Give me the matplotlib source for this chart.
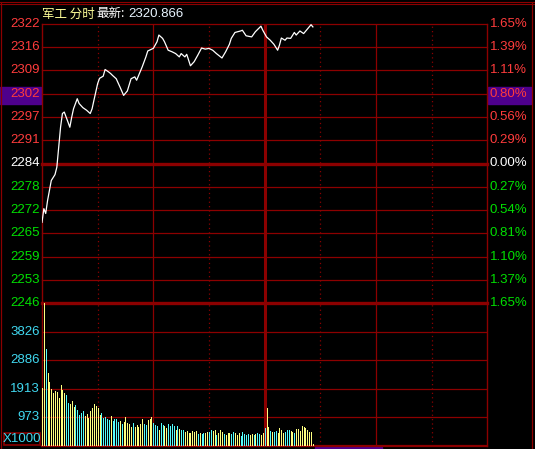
import matplotlib
matplotlib.use("Agg")
import matplotlib.pyplot as plt
from matplotlib.patches import Rectangle
from matplotlib.lines import Line2D

W, H = 535, 449

# 分时价格 (分钟, 点位)
price_min = [0, 1, 2, 3, 5, 7, 8, 9, 10, 11, 12, 14, 15, 16, 17, 19, 20, 22, 24, 26,
             27, 28, 30, 31, 33, 34, 36, 37, 38, 40, 42, 44, 46, 48, 50, 51, 54, 56, 57, 60,
             62, 63, 65, 66, 68, 70, 72, 74, 75, 77, 78, 80, 82, 84, 86, 88, 90, 92, 94, 97,
             99, 101, 102, 104, 107, 108, 110, 113, 115, 118, 119, 121, 123, 125, 127, 128, 129, 131, 132, 134,
             136, 137, 139, 141, 143, 145, 146]
price_val = [2268.1, 2271.8, 2270.5, 2274.0, 2279.4, 2281.0, 2283.0, 2288.4, 2293.8, 2297.5,
             2297.9, 2295.2, 2293.8, 2296.5, 2298.8, 2301.5, 2300.2, 2299.1, 2298.4, 2297.5,
             2298.8, 2301.1, 2305.6, 2307.0, 2307.6, 2309.4, 2308.7, 2308.3, 2307.8, 2306.9,
             2304.7, 2302.4, 2303.6, 2306.9, 2307.4, 2306.5, 2310.1, 2312.8, 2314.4, 2315.1,
             2316.9, 2318.7, 2317.8, 2316.9, 2314.6, 2314.2, 2313.7, 2312.8, 2313.7, 2312.8,
             2313.5, 2310.4, 2311.5, 2313.3, 2315.2, 2314.9, 2315.1, 2314.6, 2313.7, 2312.5,
             2314.2, 2316.2, 2317.8, 2319.4, 2319.8, 2320.0, 2318.5, 2318.2, 2319.6, 2321.1,
             2320.0, 2318.2, 2317.3, 2316.2, 2314.6, 2316.0, 2317.9, 2317.3, 2317.9, 2317.8,
             2319.4, 2318.7, 2319.8, 2319.1, 2320.3, 2321.5, 2320.9]

base = 2284.0
pct_top = 1.65

price_labels = ['2322', '2316', '2309', '2302', '2297', '2291', '2284',
                '2278', '2272', '2265', '2259', '2253', '2246']
pct_labels = ['1.65%', '1.39%', '1.11%', '0.80%', '0.56%', '0.29%', '0.00%',
              '0.27%', '0.54%', '0.81%', '1.10%', '1.37%', '1.65%']

# 成交量 (x1000), Y=涨 C=跌
volume = [1950, 4780, 3240, 2430, 2160, 1920, 1780, 1850, 1800, 1620,
          2060, 1890, 1780, 1720, 1440, 1400, 1520, 1290, 1380, 1210,
          1050, 1120, 1180, 1010, 1080, 930, 1180, 1270, 1420, 1330,
          1280, 1050, 1100, 930, 960, 910, 880, 1010, 850, 900,
          910, 820, 840, 740, 790, 980, 760, 730, 630, 760,
          650, 710, 620, 740, 910, 740, 710, 880, 900, 970,
          760, 710, 670, 540, 760, 700, 670, 610, 740, 670,
          730, 660, 550, 660, 560, 530, 530, 470, 500, 440,
          440, 500, 470, 500, 390, 440, 390, 420, 420, 460,
          460, 530, 500, 530, 370, 420, 530, 470, 390, 360,
          440, 440, 400, 460, 430, 370, 440, 330, 460, 400,
          370, 390, 360, 410, 360, 390, 420, 390, 360, 420,
          600, 1270, 620, 510, 470, 470, 500, 440, 590, 530,
          450, 470, 530, 530, 500, 470, 440, 560, 560, 510,
          660, 630, 600, 530, 470, 470, 80]
vol_dir = ("YYCYYYYYYYYYYCCYYYCCCCCYYYYYYYYYCCCCCYCCCCYCYYYYYC"
           "YYYYYCCYYYCCCYCCYYCCCCYCYCCYYYYYYYCYCCYYCCYYCYYYCY"
           "YYCCYYYCCCCCYYCYCCYYCYYCYCCYYYYCCC")
vol_top = 4790
vol_labels = ['3826', '2886', '1913', '973']

grid = '#8c0000'
red = '#ff3c3c'
green = '#00e000'
cyan = '#40d8f0'
purple = '#4e008c'


def fx(x):
    return x / W


def fy(y):
    return 1 - y / H


fig = plt.figure(figsize=(W / 100, H / 100), dpi=100, facecolor='black')

x0, x1 = 42, 487.3
ax_p = fig.add_axes([fx(x0), fy(303), fx(x1) - fx(x0), fy(24) - fy(303)])
ax_v = fig.add_axes([fx(x0), fy(446), fx(x1) - fx(x0), fy(303) - fy(446)])

half = base * pct_top / 100
levels = [base + half - i * half / 6 for i in range(13)]

for ax in (ax_p, ax_v):
    ax.set_xlim(0, 240)
    ax.axis('off')
    for m in (30, 90, 150, 210):
        ax.axvline(m, color=grid, lw=0.9, ls=(0, (1, 2.5)))
    for m in (60, 180):
        ax.axvline(m, color=grid, lw=0.9)
    ax.axvline(120, color=grid, lw=2.2)
    ax.axvline(0, color=grid, lw=1.0, clip_on=False)
    ax.axvline(240, color=grid, lw=1.0, clip_on=False)

ax_p.set_ylim(levels[-1], levels[0])
for i, lv in enumerate(levels):
    lw = 2.4 if i in (6, 12) else 0.9
    ax_p.axhline(lv, color=grid, lw=lw, clip_on=False)
ax_p.plot(price_min, price_val, color='white', lw=0.9)

ax_v.set_ylim(0, vol_top)
for k in range(1, 5):
    ax_v.axhline(vol_top * k / 5, color=grid, lw=0.9)
ax_v.axhline(0, color=grid, lw=1.6, clip_on=False)
bar_cols = ['#ffff80' if d == 'Y' else '#54fcfc' for d in vol_dir]
ax_v.vlines(range(len(volume)), 0, volume, colors=bar_cols[:len(volume)],
            lw=0.7, antialiased=False, zorder=3)

num_font = dict(family='Liberation Sans', fontsize=9.5)

# 高亮框
for rx0, rx1, ry0, ry1 in ((0, 41, 87, 104), (487.5, 531, 87, 104), (315, 382, 446.5, 449)):
    fig.patches.append(Rectangle((fx(rx0), fy(ry1)), fx(rx1) - fx(rx0), fy(ry0) - fy(ry1),
                                 transform=fig.transFigure, color=purple, zorder=-1))

for i, lv in enumerate(levels):
    c = red if i < 6 else ('white' if i == 6 else green)
    ax_p.text(-2 / 445, lv, price_labels[i], transform=ax_p.get_yaxis_transform(),
              ha='right', va='center', color=c, clip_on=False, **num_font)
    ax_p.text(1 + 2.5 / 445, lv, pct_labels[i], transform=ax_p.get_yaxis_transform(),
              ha='left', va='center', color=c, clip_on=False, **num_font)

for k, lab in zip(range(4, 0, -1), vol_labels):
    ax_v.text(-2 / 445, vol_top * k / 5, lab, transform=ax_v.get_yaxis_transform(),
              ha='right', va='center', color=cyan, clip_on=False, **num_font)

# X1000 框
fig.patches.append(Rectangle((fx(4), fy(445)), fx(40) - fx(4), fy(432.5) - fy(445),
                             transform=fig.transFigure, fill=False, edgecolor=grid, lw=1.2))
fig.text(fx(22), fy(439), 'X1000', ha='center', va='center', color=cyan, **num_font)

# 外框
for yy in (1.5, 3.5):
    fig.lines.append(Line2D([0, 1], [fy(yy), fy(yy)], transform=fig.transFigure, color=grid, lw=0.8))
fig.lines.append(Line2D([fx(1.5), fx(1.5)], [0, fy(3)], transform=fig.transFigure, color=grid, lw=0.9))
fig.lines.append(Line2D([fx(531.5), fx(531.5)], [0, fy(3)], transform=fig.transFigure, color=grid, lw=0.9))

# 标题
cjk = ['Noto Sans CJK SC', 'DejaVu Sans']
fig.text(fx(42), fy(14), '军工 分时', ha='left', va='center', color='#ffff99', family=cjk, fontsize=9)
fig.text(fx(96), fy(14), '最新:', ha='left', va='center', color='white', family=cjk, fontsize=9)
fig.text(fx(128), fy(14), '2320.866', ha='left', va='center', color='#e8f4ff',
         family='Liberation Sans', fontsize=9.5)

fig.savefig('out.png', dpi=100, facecolor='black')
